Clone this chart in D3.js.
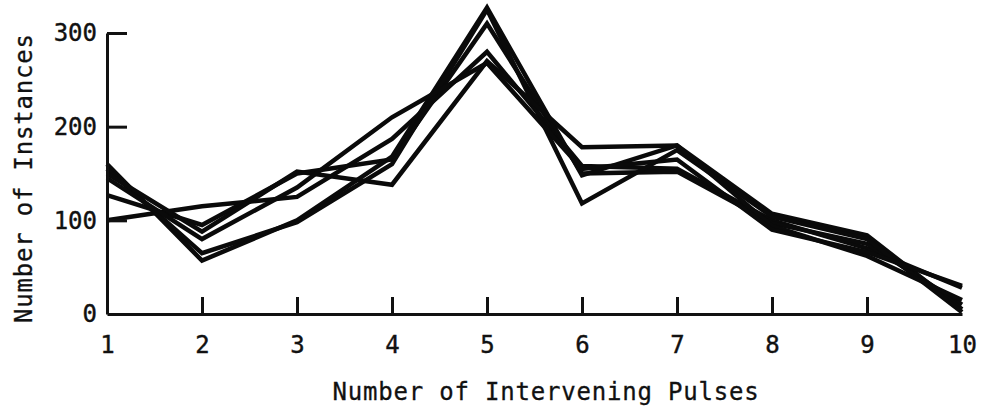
<!DOCTYPE html>
<html>
<head>
<meta charset="utf-8">
<script src="https://cdn.jsdelivr.net/npm/d3@7"></script>
<style>
  body { margin: 0; background: #fff; }
  text { font-family: "DejaVu Sans Mono", monospace; fill: #111; }
</style>
</head>
<body>
<svg id="chart" width="983" height="412"></svg>
<script>
const pulses = [1, 2, 3, 4, 5, 6, 7, 8, 9, 10];
const yTicks = [0, 100, 200, 300];

// one list per run
const runA = [100, 115, 125, 187, 280, 158, 155, 100, 70, 28];
const runB = [127, 95, 150, 165, 310, 150, 152, 97, 75, 10];
const runC = [160, 57, 100, 168, 327, 148, 180, 107, 84, 5];
const runD = [155, 65, 98, 160, 325, 118, 175, 104, 80, 2];
const runE = [150, 88, 152, 138, 270, 178, 180, 94, 62, 15];
const runF = [145, 80, 135, 210, 268, 155, 165, 90, 66, 30];
const runs = [runA, runB, runC, runD, runE, runF];

const svg = d3.select('#chart');

const x = d3.scaleLinear().domain([1, 10]).range([107, 962]);
const y = d3.scaleLinear().domain([0, 300]).range([314, 33]);

const line = d3
  .line()
  .x((d, i) => x(pulses[i]))
  .y(d => y(d));

svg
  .append('g')
  .selectAll('path')
  .data(runs)
  .enter()
  .append('path')
  .attr('d', line)
  .attr('fill', 'none')
  .attr('stroke', '#0a0a0a')
  .attr('stroke-width', 4.5)
  .attr('stroke-linejoin', 'miter');

const xAxis = d3
  .axisBottom(x)
  .tickValues(pulses)
  .tickSizeInner(-17)
  .tickSizeOuter(0)
  .tickPadding(0)
  .tickFormat(d3.format('d'));

const gx = svg
  .append('g')
  .attr('transform', `translate(0,${y(0)})`)
  .call(xAxis);

gx.select('.domain').attr('stroke', '#111').attr('stroke-width', 3);
gx.selectAll('.tick line')
  .attr('stroke', '#111')
  .attr('stroke-width', 3)
  .filter(d => d === 1 || d === 10)
  .remove();
gx.selectAll('.tick text')
  .attr('y', 31)
  .attr('dy', '0.35em')
  .attr('font-size', 24)
  .attr('fill', '#111')
  .attr('stroke', '#111')
  .attr('stroke-width', 0.4);

const yAxis = d3
  .axisLeft(y)
  .tickValues(yTicks)
  .tickSizeInner(-20)
  .tickSizeOuter(0)
  .tickPadding(10)
  .tickFormat(d3.format('d'));

const gy = svg
  .append('g')
  .attr('transform', `translate(${x(1)},0)`)
  .call(yAxis);

gy.select('.domain').attr('stroke', '#111').attr('stroke-width', 3);
gy.selectAll('.tick line')
  .attr('stroke', '#111')
  .attr('stroke-width', 3)
  .filter(d => d === 0)
  .remove();
gy.selectAll('.tick text')
  .attr('font-size', 24)
  .attr('fill', '#111')
  .attr('stroke', '#111')
  .attr('stroke-width', 0.4);

svg
  .append('text')
  .attr('x', 546)
  .attr('y', 400)
  .attr('text-anchor', 'middle')
  .attr('font-size', 24)
  .attr('letter-spacing', 0.8)
  .attr('stroke', '#111')
  .attr('stroke-width', 0.3)
  .text('Number of Intervening Pulses');

svg
  .append('text')
  .attr('transform', 'translate(32,178) rotate(-90)')
  .attr('text-anchor', 'middle')
  .attr('font-size', 24)
  .attr('letter-spacing', 0.8)
  .attr('stroke', '#111')
  .attr('stroke-width', 0.3)
  .text('Number of Instances');
</script>
</body>
</html>
